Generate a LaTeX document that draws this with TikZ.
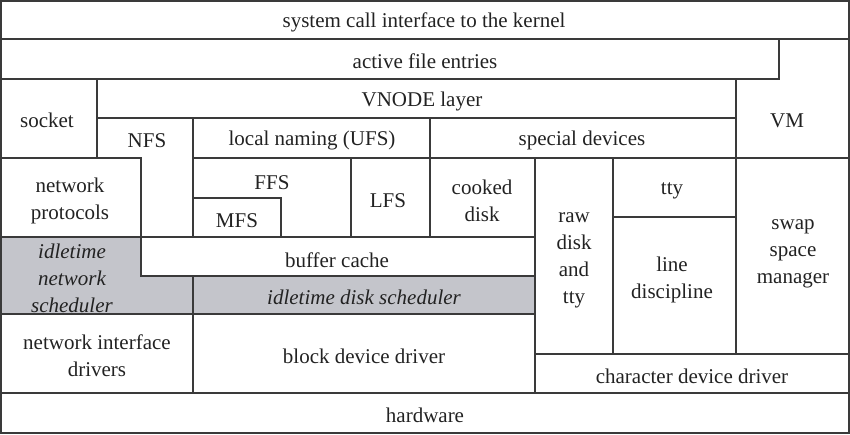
\documentclass[tikz,border=0pt]{standalone}
\usepackage{fontspec}
\setmainfont{Liberation Serif}
\definecolor{ln}{HTML}{3A3A3A}
\definecolor{gr}{RGB}{196,197,203}
\definecolor{tx}{HTML}{222222}
\begin{document}
\begin{tikzpicture}[x=1pt,y=-1pt,
  region/.style={draw=ln,line width=1.5pt,line join=miter},
  shade/.style={region,fill=gr},
  lbl/.style={font=\fontsize{21}{27}\selectfont,align=center,inner sep=0pt,text=tx,yshift=-2.5pt},
  ital/.style={lbl,font=\fontsize{21}{27}\selectfont\itshape}]
\useasboundingbox (0,0) rectangle (850,435);
% regions
\draw[region] (1,1) rectangle (849,39);
\draw[region] (1,39) rectangle (779,79);
\draw[region] (779,39) -- (849,39) -- (849,158) -- (736,158) -- (736,79) -- (779,79) -- cycle;
\draw[region] (1,79) rectangle (97,158);
\draw[region] (97,79) rectangle (736,118);
\draw[region] (97,118) -- (193,118) -- (193,237) -- (141,237) -- (141,158) -- (97,158) -- cycle;
\draw[region] (193,118) rectangle (430,158);
\draw[region] (430,118) rectangle (736,158);
\draw[region] (1,158) rectangle (141,237);
\draw[region] (193,158) -- (351,158) -- (351,237) -- (281,237) -- (281,198) -- (193,198) -- cycle;
\draw[region] (193,198) rectangle (281,237);
\draw[region] (351,158) rectangle (430,237);
\draw[region] (430,158) rectangle (535,237);
\draw[region] (535,158) rectangle (613,354);
\draw[region] (613,158) rectangle (736,217);
\draw[region] (613,217) rectangle (736,354);
\draw[region] (736,158) rectangle (849,354);
\draw[shade] (1,237) -- (141,237) -- (141,276) -- (193,276) -- (193,314) -- (1,314) -- cycle;
\draw[region] (141,237) rectangle (535,276);
\draw[shade] (193,276) rectangle (535,314);
\draw[region] (1,314) rectangle (193,393);
\draw[region] (193,314) rectangle (535,393);
\draw[region] (535,354) rectangle (849,393);
\draw[region] (1,393) rectangle (849,433);
% labels
\node[lbl] (sys) at (424,20) {system call interface to the kernel};
\node[lbl] (afe) at (425,59) {active file entries};
\node[lbl] (vnode) at (422,99) {VNODE layer};
\node[lbl] (socket) at (47,118) {socket};
\node[lbl] (nfs) at (147,138) {NFS};
\node[lbl] (ufs) at (312,138) {local naming (UFS)};
\node[lbl] (spec) at (582,138) {special devices};
\node[lbl] (vm) at (787,118) {VM};
\node[lbl] (netp) at (70,198) {network\\protocols};
\node[lbl] (ffs) at (272,180) {FFS};
\node[lbl] (mfs) at (237,218) {MFS};
\node[lbl] (lfs) at (388,198) {LFS};
\node[lbl] (cooked) at (482,198) {cooked\\disk};
\node[lbl] (tty) at (672,188) {tty};
\node[lbl] (raw) at (574,258) {raw\\disk\\and\\tty};
\node[lbl] (linedisc) at (672,277) {line\\discipline};
\node[lbl] (swap) at (793,251) {swap\\space\\manager};
\node[ital] (ins) at (72,276) {idletime\\network\\scheduler};
\node[lbl] (buf) at (337,258) {buffer cache};
\node[ital] (ids) at (364,295) {idletime disk scheduler};
\node[lbl] (nid) at (97,353) {network interface\\drivers};
\node[lbl] (bdd) at (364,354) {block device driver};
\node[lbl] (cdd) at (692,374) {character device driver};
\node[lbl] (hw) at (425,413) {hardware};
\end{tikzpicture}
\end{document}
